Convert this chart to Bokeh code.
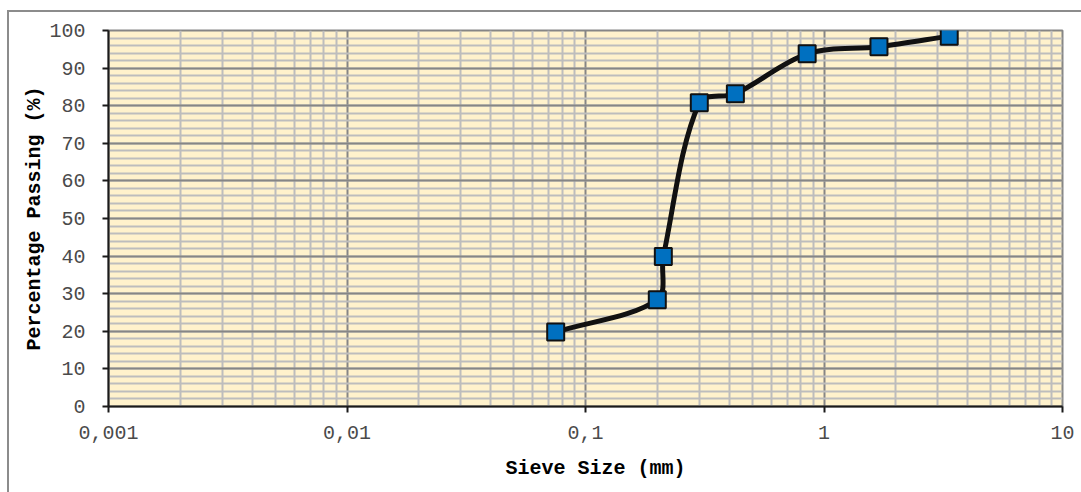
from bokeh.plotting import figure
from bokeh.models import FixedTicker, CustomJSTickFormatter, Range1d, Title
from bokeh.embed import file_html
from bokeh.resources import INLINE
import math

# ---- data ----
sieve_mm = [0.075, 0.2, 0.212, 0.3, 0.425, 0.85, 1.7, 3.35]
passing = [19.8, 28.4, 39.9, 80.8, 83.2, 93.8, 95.7, 98.5]

x_ticks = [0.001, 0.01, 0.1, 1, 10]
y_ticks = [0, 10, 20, 30, 40, 50, 60, 70, 80, 90, 100]
y_minor = list(range(0, 101, 2))
x_minor = [d * k for d in [0.001, 0.01, 0.1, 1] for k in range(2, 10)]

FONT = "Liberation Mono"
W, H = 1081, 492

p = figure(width=W, height=H, x_axis_type="log",
           x_range=Range1d(0.001, 10), y_range=Range1d(0, 100),
           output_backend="svg", toolbar_location=None,
           min_border_left=108, min_border_right=19,
           min_border_top=30, min_border_bottom=86)

p.background_fill_color = "#FFF2CC"
p.border_fill_alpha = 0
p.outline_line_color = "#868686"
p.outline_line_width = 2
# outer chart-area border: left and top edges drawn as CSS background lines
p.styles = {
    "margin-bottom": "-16px", "margin-right": "-16px",
    "background-color": "white",
    "background-image": "linear-gradient(#8c8c8c, #8c8c8c), linear-gradient(#8c8c8c, #8c8c8c)",
    "background-size": "2px 100%, 100% 2px",
    "background-position": "7px 10px, 7px 10px",
    "background-repeat": "no-repeat",
}

# grids
p.xaxis.ticker = FixedTicker(ticks=x_ticks, minor_ticks=x_minor)
p.yaxis.ticker = FixedTicker(ticks=y_ticks, minor_ticks=y_minor)
for g in (p.xgrid, p.ygrid):
    g.grid_line_color = "#868686"
    g.grid_line_width = 2
    g.minor_grid_line_color = "#BDBDBD"
    g.minor_grid_line_width = 2

p.xaxis.formatter = CustomJSTickFormatter(code="return tick.toString().replace('.', ',');")

for ax in (p.xaxis, p.yaxis):
    ax.axis_line_color = "#1a1a1a"
    ax.axis_line_width = 2
    ax.major_tick_line_color = "#1a1a1a"
    ax.major_tick_line_width = 2
    ax.major_tick_out = 6
    ax.major_tick_in = 0
    ax.minor_tick_out = 0
    ax.minor_tick_in = 0
    ax.major_label_text_font = FONT
    ax.major_label_text_font_size = "20px"
    ax.major_label_text_color = "#4a4a4a"
    ax.axis_label_text_font = FONT
    ax.axis_label_text_font_size = "20px"
    ax.axis_label_text_font_style = "bold"
    ax.axis_label_text_color = "black"

p.yaxis.axis_label = "Percentage Passing (%)"
p.xaxis.major_label_standoff = 13
p.yaxis.major_label_standoff = 17
p.yaxis.axis_label_standoff = 0

# x-axis title (centred on the chart area, slightly right of the plot frame centre)
p.add_layout(Title(text="Sieve Size (mm)", align="left", offset=397,
                   standoff=26, text_font=FONT, text_font_size="20px",
                   text_font_style="bold", text_color="black"), "below")

# smoothed line: Bezier control points along the neighbour chord,
# scaled by relative segment lengths (in on-screen proportions)
PX_PER_DECADE = 238.5
PX_PER_PCT = 3.76
u = [math.log10(v) * PX_PER_DECADE for v in sieve_mm]
w = [v * PX_PER_PCT for v in passing]
n = len(u)


def seglen(a, b):
    return math.hypot(u[b] - u[a], w[b] - w[a])


def ctrl(i, j, k, toward):
    li = seglen(i, j) if i != j else 0.0
    lk = seglen(j, k) if k != j else 0.0
    seg = seglen(j, toward)
    tot = li + lk
    f = (seg / tot) / 3 if tot > 0 else 0
    sgn = 1 if toward == j + 1 else -1
    return (u[j] + sgn * f * (u[k] - u[i]), w[j] + sgn * f * (w[k] - w[i]))


x0, y0, x1, y1, cx0, cy0, cx1, cy1 = [], [], [], [], [], [], [], []
for i in range(n - 1):
    a = ctrl(max(i - 1, 0), i, i + 1, i + 1)
    b = ctrl(i, i + 1, min(i + 2, n - 1), i)
    x0.append(sieve_mm[i]); y0.append(passing[i])
    x1.append(sieve_mm[i + 1]); y1.append(passing[i + 1])
    cx0.append(10 ** (a[0] / PX_PER_DECADE)); cy0.append(a[1] / PX_PER_PCT)
    cx1.append(10 ** (b[0] / PX_PER_DECADE)); cy1.append(b[1] / PX_PER_PCT)

p.bezier(x0=x0, y0=y0, x1=x1, y1=y1, cx0=cx0, cy0=cy0, cx1=cx1, cy1=cy1,
         line_color="#111111", line_width=5, line_cap="round")

p.scatter(sieve_mm, passing, marker="square", size=17,
          fill_color="#0070C0", line_color="#111111", line_width=2)

open("out.html", "w").write(file_html(p, INLINE))
